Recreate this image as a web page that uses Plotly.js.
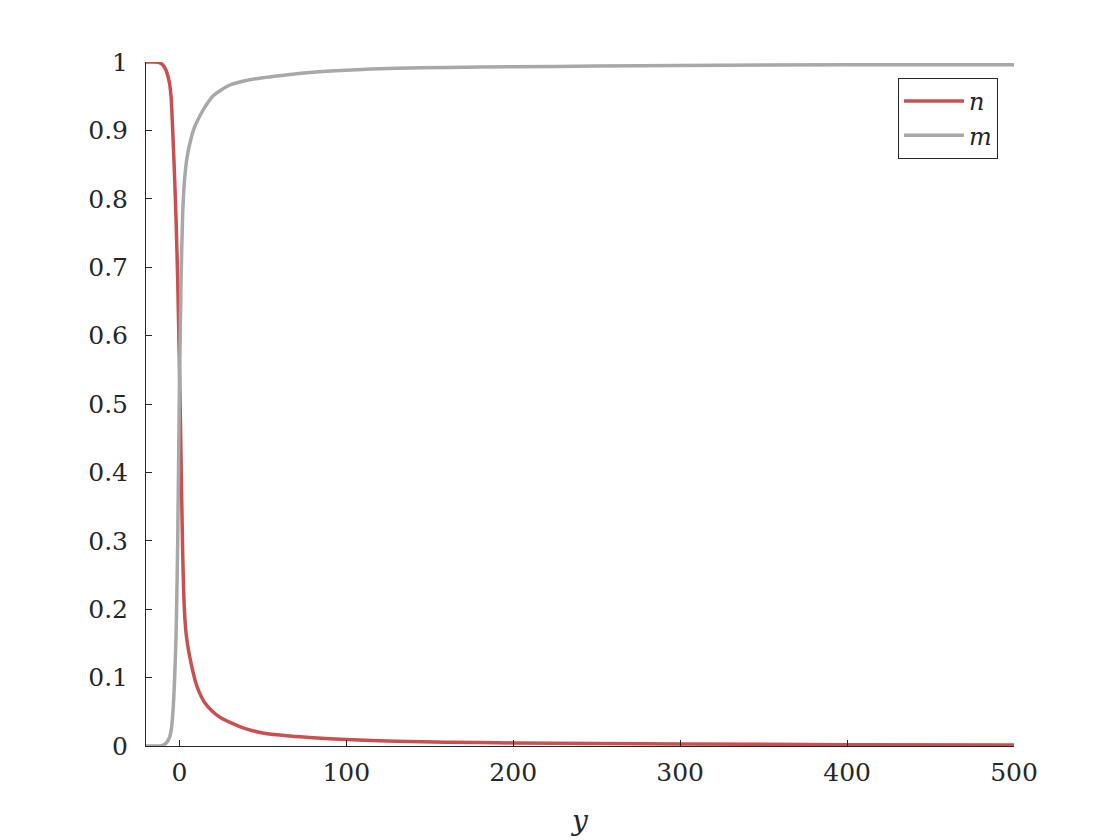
<!DOCTYPE html>
<html>
<head>
<meta charset="utf-8">
<script src="https://cdn.plot.ly/plotly-3.0.1.min.js"></script>
<style>html,body{margin:0;padding:0;background:#fff;}#chart{width:1120px;height:840px;}</style>
</head>
<body>
<div id="chart"></div>
<script>
const xVals = [-20, -15, -12, -10, -8, -6, -5, -4, -3, -2, -1, 0, 1, 2, 3, 4, 5, 6, 8, 10, 12, 15, 20, 25, 30, 40, 50, 60, 80, 100, 130, 160, 200, 250, 300, 400, 500];
const nVals = [1, 1, 0.999, 0.996, 0.988, 0.97, 0.95, 0.90, 0.84, 0.77, 0.68, 0.56, 0.42, 0.28, 0.20, 0.165, 0.147, 0.133, 0.11, 0.091, 0.078, 0.064, 0.05, 0.041, 0.035, 0.025, 0.019, 0.016, 0.012, 0.0095, 0.007, 0.0055, 0.0045, 0.0035, 0.003, 0.002, 0.0015];
const mVals = [0, 0, 0, 0.001, 0.004, 0.012, 0.022, 0.045, 0.09, 0.16, 0.30, 0.52, 0.68, 0.78, 0.825, 0.85, 0.866, 0.878, 0.897, 0.91, 0.92, 0.933, 0.95, 0.959, 0.966, 0.973, 0.977, 0.98, 0.985, 0.988, 0.991, 0.992, 0.993, 0.994, 0.995, 0.996, 0.996];
const seriesNames = ['<i>n</i>', '<i>m</i>'];
const xTicks = [0, 100, 200, 300, 400, 500];
const yTicks = [0, 0.1, 0.2, 0.3, 0.4, 0.5, 0.6, 0.7, 0.8, 0.9, 1];

const fontFam = "'DejaVu Serif', serif";
const traces = [
  {x: xVals, y: nVals, name: seriesNames[0], mode: 'lines', line: {color: 'rgb(200,80,80)', width: 3.5, shape: 'spline', smoothing: 0.6}},
  {x: xVals, y: mVals, name: seriesNames[1], mode: 'lines', line: {color: 'rgb(168,168,168)', width: 3.5, shape: 'spline', smoothing: 0.6}}
];
const layout = {
  width: 1120, height: 840,
  margin: {l: 146, r: 106, t: 62, b: 94, pad: 0},
  paper_bgcolor: '#fff', plot_bgcolor: '#fff',
  font: {family: fontFam, size: 25, color: '#262626'},
  showlegend: true,
  legend: {x: 0.9816, y: 0.9766, xanchor: 'right', yanchor: 'top', bgcolor: '#fff', bordercolor: '#262626', borderwidth: 1, itemwidth: 60, tracegroupgap: 0, font: {family: fontFam, size: 24, color: '#262626'}},
  xaxis: {
    range: [-20, 500], tickvals: xTicks, ticktext: xTicks.map(String),
    showline: true, linecolor: '#262626', linewidth: 1, mirror: false,
    ticks: 'inside', ticklen: 6, tickcolor: '#262626', tickwidth: 1,
    ticklabelstandoff: 4,
    showgrid: false, zeroline: false,
    title: {text: '<i>y</i>', font: {family: fontFam, size: 28, color: '#262626'}, standoff: 24}
  },
  yaxis: {
    range: [0, 1], tickvals: yTicks, ticktext: yTicks.map(String),
    showline: true, linecolor: '#262626', linewidth: 1, mirror: false,
    ticks: 'inside', ticklen: 6, tickcolor: '#262626', tickwidth: 1,
    ticklabelstandoff: 12,
    showgrid: false, zeroline: false
  }
};
Plotly.newPlot('chart', traces, layout, {displayModeBar: false, staticPlot: true});
</script>
</body>
</html>
